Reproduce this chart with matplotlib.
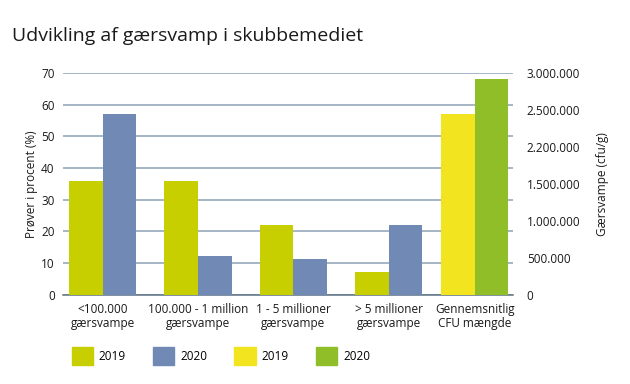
import numpy as np
import matplotlib.pyplot as plt
from matplotlib.patches import Patch
from matplotlib.ticker import FixedLocator

plt.rcParams['font.family'] = ['Open Sans', 'DejaVu Sans']

# data
categories = ['<100.000\ngærsvampe', '100.000 - 1 million\ngærsvampe',
              '1 - 5 millioner\ngærsvampe', '> 5 millioner\ngærsvampe']
pct_2019 = [36, 36, 22.1, 7.3]
pct_2020 = [57, 12.3, 11.3, 22.1]
cfu_label = 'Gennemsnitlig\nCFU mængde'
cfu_2019 = 2446000
cfu_2020 = 2920000
right_ticks = [0, 500000, 1000000, 1500000, 2000000, 2500000, 3000000]
right_labels = ['0', '500.000', '1.000.000', '1.500.000', '2.200.000', '2.500.000', '3.000.000']

c19 = '#c8cf00'
c20 = '#7189b5'
y19 = '#f2e520'
g20 = '#8fbe28'
grid_c = '#8ea2b4'
txt = '#1a1a1a'

fig = plt.figure(figsize=(6.3, 3.84), dpi=100)
ax = fig.add_axes([0.1, 0.232, 0.714, 0.578])
ax2 = ax.twinx()

x = np.arange(len(categories))
x_cfu = 3.907
w = 0.352

ax.bar(x - w / 2, pct_2019, w, color=c19, zorder=3)
ax.bar(x + w / 2, pct_2020, w, color=c20, zorder=3)
ax2.bar(x_cfu - w / 2, cfu_2019, w, color=y19, zorder=3)
ax2.bar(x_cfu + w / 2, cfu_2020, w, color=g20, zorder=3)

ax.set_xlim(-0.417, 4.305)
ax.set_ylim(0, 70)
ax.set_yticks(np.arange(0, 71, 10))
ax.yaxis.grid(True, color=grid_c, linewidth=1.1, zorder=0)
ax.set_axisbelow(True)
ax.set_xticks(list(x) + [x_cfu])
ax.set_xticklabels(categories + [cfu_label], fontsize=8.5, color=txt, linespacing=1.05)
ax.tick_params(axis='x', length=0, pad=6)
ax.tick_params(axis='y', length=0, pad=6, labelsize=8.5, labelcolor=txt)
ax.set_ylabel('Prøver i procent (%)', fontsize=8.5, color=txt, labelpad=2)

ax2.set_ylim(0, 3000000)
ax2.yaxis.set_major_locator(FixedLocator(right_ticks))
ax2.set_yticklabels(right_labels)
ax2.tick_params(axis='y', length=0, pad=10, labelsize=8.5, labelcolor=txt)
ax2.set_ylabel('Gærsvampe (cfu/g)', fontsize=8.5, color=txt, labelpad=11)

for a in (ax, ax2):
    for s in ('top', 'left', 'right'):
        a.spines[s].set_visible(False)
ax.spines['bottom'].set_color('#5d7183')
ax.spines['bottom'].set_linewidth(1.1)
ax2.spines['bottom'].set_visible(False)

fig.text(0.019, 0.905, 'Udvikling af gærsvamp i skubbemediet', fontsize=14, color=txt, va='center')

handles = [Patch(color=c19), Patch(color=c20), Patch(color=y19), Patch(color=g20)]
leg = fig.legend(handles, ['2019', '2020', '2019', '2020'], ncol=4, loc='center left',
                 bbox_to_anchor=(0.097, 0.073), frameon=False, fontsize=8.5,
                 handlelength=1.8, handleheight=1.85, columnspacing=2.3, handletextpad=0.5)

fig.savefig('out.png', dpi=100)
